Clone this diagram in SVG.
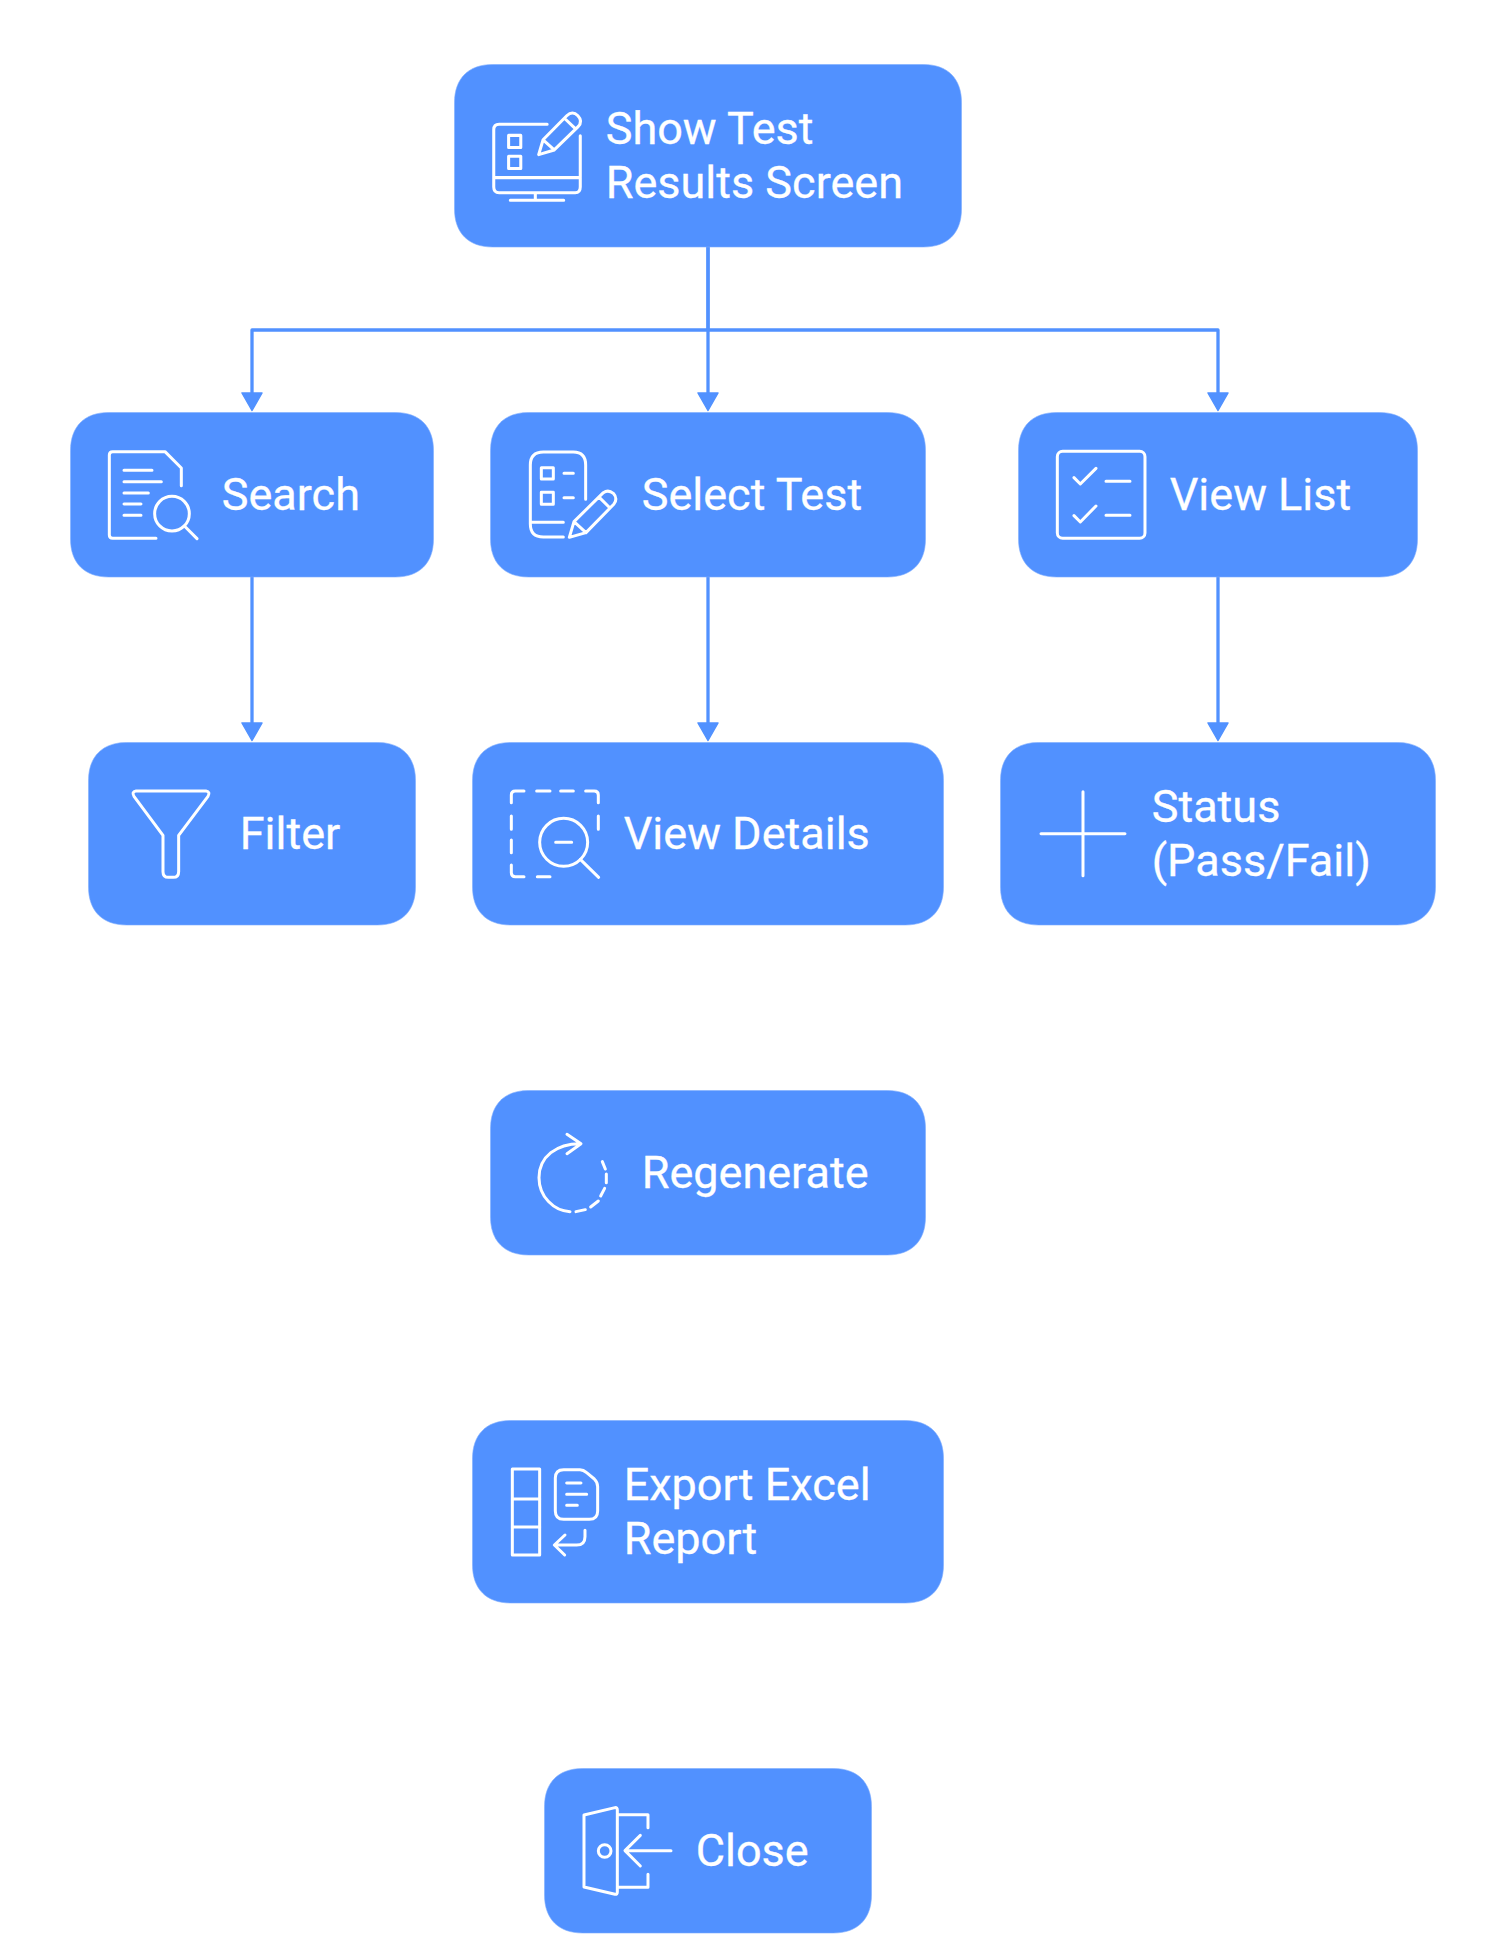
<svg xmlns="http://www.w3.org/2000/svg" width="1506" height="1950" viewBox="0 0 1506 1950">
<style>
.box{fill:#5191ff;stroke:#7dadff;stroke-width:.6}
.lbl{font-family:Roboto,"Liberation Sans",sans-serif;font-size:45px;fill:#fff;stroke:#fff;stroke-width:.3}
.ic{fill:none;stroke:#fff;stroke-width:9;stroke-linecap:round;stroke-linejoin:round}
.edge{fill:none;stroke:#5191ff;stroke-width:3.3;stroke-linejoin:round}
</style>
<defs>
<marker id="ah" markerUnits="userSpaceOnUse" markerWidth="24" markerHeight="24" refX="1" refY="12" orient="auto">
<path d="M1 2 L18.5 12 L1 22 Z" fill="#5191ff" stroke="#5191ff" stroke-width="1.5" stroke-linejoin="round"/>
</marker>
</defs>
<rect width="1506" height="1950" fill="#fff"/>
<g id="connectors">
<path class="edge" d="M708 247 V330 H252 V393" marker-end="url(#ah)"/>
<path class="edge" d="M708 247 V393" marker-end="url(#ah)"/>
<path class="edge" d="M708 330 H1218 V393" marker-end="url(#ah)"/>
<path class="edge" d="M252 577 V723" marker-end="url(#ah)"/>
<path class="edge" d="M708 577 V723" marker-end="url(#ah)"/>
<path class="edge" d="M1218 577 V723" marker-end="url(#ah)"/>
</g>
<g id="node-show-test-results">
<path class="box" d="M492.5 64.5 h431 c24 0 38 14 38 38 v106.5 c0 24 -14 38 -38 38 h-431 c-24 0 -38 -14 -38 -38 v-106.5 c0 -24 14 -38 38 -38 z"/>
<g class="ic" transform="translate(440 49.2) scale(.338)">
<path d="M317 222 H175 Q159 222 159 238 V408 Q159 425 175 425 H400 Q415 425 415 408 V256 M159 380 H415 M282 425 V447 M208 447 H366"/>
<rect x="203" y="255" width="36" height="36"/><rect x="203" y="317" width="36" height="36"/>
<path d="M292 312 L305 268 L375 197 Q392 180 408 197 Q424 214 408 230 L338 298 Z M305 268 L338 298 M372 208 L398 233"/>
</g>
<text class="lbl" x="605.7" y="144">Show Test</text>
<text class="lbl" x="605.7" y="198">Results Screen</text>
</g>
<g id="node-search">
<path class="box" d="M108.5 412.5 h287 c24 0 38 14 38 38 v88.5 c0 24 -14 38 -38 38 h-287 c-24 0 -38 -14 -38 -38 v-88.5 c0 -24 14 -38 38 -38 z"/>
<g class="ic" transform="translate(60 310) scale(.3333)">
<path d="M288 685 H158 Q148 685 148 675 V435 Q148 425 158 425 H315 L364 474 V527 M192 481 H276 M192 515 H304 M192 549 H265 M192 582 H243 M192 616 H243 M374 649 L411 686"/>
<circle cx="336" cy="611" r="52"/>
</g>
<text class="lbl" x="221.7" y="509.5">Search</text>
</g>
<g id="node-select-test">
<path class="box" d="M528.5 412.5 h359 c24 0 38 14 38 38 v88.5 c0 24 -14 38 -38 38 h-359 c-24 0 -38 -14 -38 -38 v-88.5 c0 -24 14 -38 38 -38 z"/>
<g class="ic" transform="translate(480 400) scale(.3333)">
<path d="M250 411 H190 Q151 411 151 372 V195 Q151 156 190 156 H280 Q317 156 317 195 V298 M151 367 H250 M252 220 H280 M252 293 H280"/>
<rect x="184" y="203" width="36" height="34"/><rect x="184" y="277" width="36" height="36"/>
<path d="M268 412 L282 365 L370 278 Q385 268 400 280 Q414 295 402 312 L318 398 Z M282 365 L318 398 M358 292 L390 324"/>
</g>
<text class="lbl" x="641.7" y="509.5">Select Test</text>
</g>
<g id="node-view-list">
<path class="box" d="M1056.5 412.5 h323 c24 0 38 14 38 38 v88.5 c0 24 -14 38 -38 38 h-323 c-24 0 -38 -14 -38 -38 v-88.5 c0 -24 14 -38 38 -38 z"/>
<g class="ic" transform="translate(1000 400) scale(.3333)">
<rect x="172" y="154" width="263" height="261" rx="16"/>
<path d="M222 233 L241 252 L288 205 M222 347 L241 366 L288 318 M318 244 H390 M318 346 H390"/>
</g>
<text class="lbl" x="1169.7" y="509.5">View List</text>
</g>
<g id="node-filter">
<path class="box" d="M126.5 742.5 h251 c24 0 38 14 38 38 v106.5 c0 24 -14 38 -38 38 h-251 c-24 0 -38 -14 -38 -38 v-106.5 c0 -24 14 -38 38 -38 z"/>
<g class="ic" transform="translate(80 730) scale(.3333)">
<path d="M168 183 H378 Q392 185 384 199 L296 316 V425 Q296 442 280 442 H265 Q249 442 249 425 V316 L162 199 Q154 185 168 183 Z"/>
</g>
<text class="lbl" x="239.7" y="848.5">Filter</text>
</g>
<g id="node-view-details">
<path class="box" d="M510.5 742.5 h395 c24 0 38 14 38 38 v106.5 c0 24 -14 38 -38 38 h-395 c-24 0 -38 -14 -38 -38 v-106.5 c0 -24 14 -38 38 -38 z"/>
<g class="ic" transform="translate(465 730) scale(.3333)">
<path d="M139 218 V195 Q139 183 151 183 H177 M215 183 H255 M287 183 H325 M362 183 H388 Q400 183 400 195 V218 M400 258 V298 M139 258 V298 M139 330 V368 M139 405 V428 Q139 440 151 440 H177 M217 440 H255 M272 337 H320 M346 388 L401 442"/>
<circle cx="296" cy="337" r="72"/>
</g>
<text class="lbl" x="623.7" y="848.5">View Details</text>
</g>
<g id="node-status">
<path class="box" d="M1038.5 742.5 h359 c24 0 38 14 38 38 v106.5 c0 24 -14 38 -38 38 h-359 c-24 0 -38 -14 -38 -38 v-106.5 c0 -24 14 -38 38 -38 z"/>
<g class="ic" transform="translate(985 730) scale(.3333)">
<path d="M294 185 V437 M168 311 H420"/>
</g>
<text class="lbl" x="1151.7" y="821.5">Status</text>
<text class="lbl" x="1151.7" y="875.5">(Pass/Fail)</text>
</g>
<g id="node-regenerate">
<path class="box" d="M528.5 1090.5 h359 c24 0 38 14 38 38 v88.5 c0 24 -14 38 -38 38 h-359 c-24 0 -38 -14 -38 -38 v-88.5 c0 -24 14 -38 38 -38 z"/>
<g class="ic" transform="translate(480 1075) scale(.3333)">
<path d="M303 206 C230 205 177 245 177 308 C177 365 222 408 270 410 M261 178 L303 206 L261 236 M288 410 L316 404 M332 396 L355 378 M362 363 L374 340 M379 323 V297 M376 282 L367 260"/>
</g>
<text class="lbl" x="641.7" y="1187.5">Regenerate</text>
</g>
<g id="node-export-excel">
<path class="box" d="M510.5 1420.5 h395 c24 0 38 14 38 38 v106.5 c0 24 -14 38 -38 38 h-395 c-24 0 -38 -14 -38 -38 v-106.5 c0 -24 14 -38 38 -38 z"/>
<g class="ic" transform="translate(465 1405) scale(.3333)">
<rect x="142" y="192" width="82" height="258"/>
<path d="M142 282 H224 M142 366 H224"/>
<path d="M296 194 H345 Q355 194 365 203 L388 222 Q398 232 398 245 V318 Q398 343 373 343 H296 Q271 343 271 318 V219 Q271 194 296 194 Z M305 234 H348 M305 268 H365 M305 301 H337"/>
<path d="M360 376 V395 Q360 420 335 420 H270 M300 390 L268 420 L299 450"/>
</g>
<text class="lbl" x="623.7" y="1499.5">Export Excel</text>
<text class="lbl" x="623.7" y="1553.5">Report</text>
</g>
<g id="node-close">
<path class="box" d="M582.5 1768.5 h251 c24 0 38 14 38 38 v88.5 c0 24 -14 38 -38 38 h-251 c-24 0 -38 -14 -38 -38 v-88.5 c0 -24 14 -38 38 -38 z"/>
<g class="ic" transform="translate(530 1750) scale(.3333)">
<path d="M162 195 L255 173 Q262 172 262 180 V426 Q262 434 255 433 L162 411 Z M264 194 H354 V233 M354 373 V412 H264 M423 302 H286 M331 256 L285 302 L331 348"/>
<circle cx="224" cy="303" r="19"/>
</g>
<text class="lbl" x="695.7" y="1865.5">Close</text>
</g>
</svg>
